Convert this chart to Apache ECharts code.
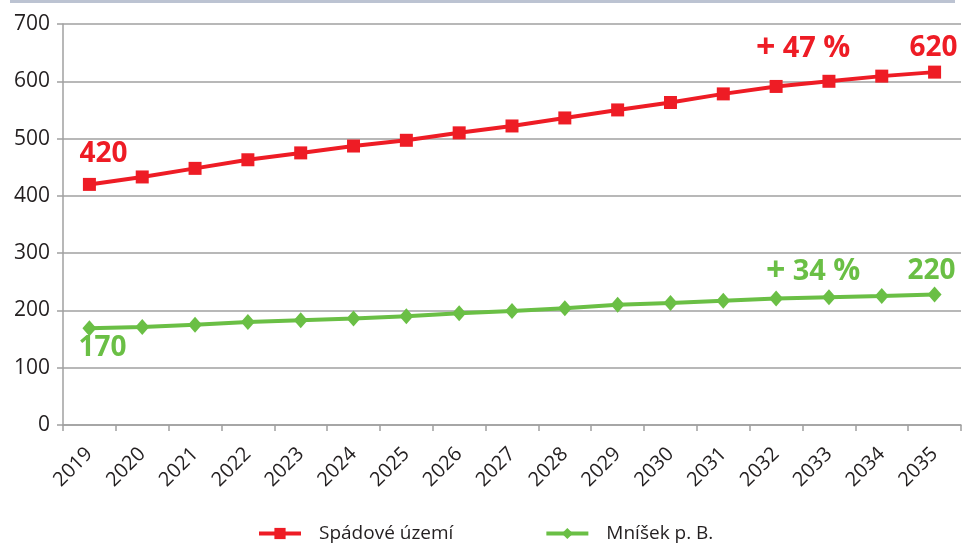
<!DOCTYPE html>
<html><head><meta charset="utf-8">
<script src="https://cdn.jsdelivr.net/npm/echarts@6/dist/echarts.min.js"></script>
<style>html,body{margin:0;padding:0;background:#fff}#c{width:974px;height:546px}</style>
</head><body><div id="c"></div>
<script>
const years = ['2019','2020','2021','2022','2023','2024','2025','2026','2027','2028','2029','2030','2031','2032','2033','2034','2035'];
const spadove = [420,433,448,463,475,487,497,510,522,536,550,563,578,591,600,609,616];
const mnisek = [169,171,175,180,183,186,190,195,199,204,210,213,217,221,223,225,228];
const yTicks = {min:0, max:700, interval:100};
const redNotes = [{i:0, v:420, text:'420', off:[14,-30]}, {i:13, v:591, text:'+ 47 %', off:[27,-38]}, {i:16, v:616, text:'620', off:[-1,-24]}];
const greenNotes = [{i:0, v:169, text:'170', off:[13,20]}, {i:13, v:221, text:'+ 34 %', off:[37,-27]}, {i:16, v:228, text:'220', off:[-3,-23]}];
const RED = '#ee1c25', GREEN = '#6abf45', FONT = 'Open Sans';
function fmt(t){
  const m = t.match(/^\+ (\d+) %$/);
  return m ? '{p|+} {n|' + m[1] + '} {s|%}' : t;
}
function notes(arr, color){
  const base = {color:color, fontFamily:FONT, fontWeight:'bold'};
  return {symbol:'circle', symbolSize:0, silent:true,
    data: arr.map(n => ({coord:[n.i, n.v], value:n.text,
      label:Object.assign({show:true, position:'inside', offset:n.off, formatter:fmt(n.text), fontSize:28}, base, {
        rich:{p:Object.assign({fontSize:34}, base), n:Object.assign({fontSize:29}, base), s:Object.assign({fontSize:30}, base)}})}))};
}
const chart = echarts.init(document.getElementById('c'));
chart.setOption({
  animation:false,
  graphic:[{type:'rect', shape:{x:10, y:0, width:945, height:3}, style:{fill:'#bcc3d2'}}],
  grid:{left:63, right:13, top:24, bottom:121},
  legend:{bottom:-2, left:252, itemWidth:42, itemHeight:14, itemGap:91,
    lineStyle:{width:4},
    textStyle:{fontFamily:FONT, fontSize:19, color:'#231f20', padding:[0,0,0,13]},
    data:['Spádové území','Mníšek p. B.']},
  xAxis:{type:'category', data:years, boundaryGap:true,
    axisLine:{lineStyle:{color:'#a0a0a0', width:1.5}},
    axisTick:{show:true, length:6, lineStyle:{color:'#a0a0a0', width:1.5}},
    axisLabel:{rotate:45, margin:26, fontFamily:FONT, fontSize:20, color:'#231f20', interval:0}},
  yAxis:{type:'value', min:yTicks.min, max:yTicks.max, interval:yTicks.interval,
    axisLine:{show:true, lineStyle:{color:'#a0a0a0', width:1.5}},
    axisTick:{show:true, length:6, lineStyle:{color:'#a0a0a0', width:1.5}},
    splitLine:{lineStyle:{color:'#a0a0a0', width:1.5}},
    axisLabel:{fontFamily:FONT, fontSize:21, color:'#231f20', margin:13}},
  series:[
    {name:'Spádové území', type:'line', data:spadove, symbol:'rect', symbolSize:13,
      lineStyle:{color:RED, width:4}, itemStyle:{color:RED}, markPoint:notes(redNotes, RED)},
    {name:'Mníšek p. B.', type:'line', data:mnisek, symbol:'diamond', symbolSize:[14,16],
      lineStyle:{color:GREEN, width:4}, itemStyle:{color:GREEN}, markPoint:notes(greenNotes, GREEN)}
  ]
});
</script></body></html>
